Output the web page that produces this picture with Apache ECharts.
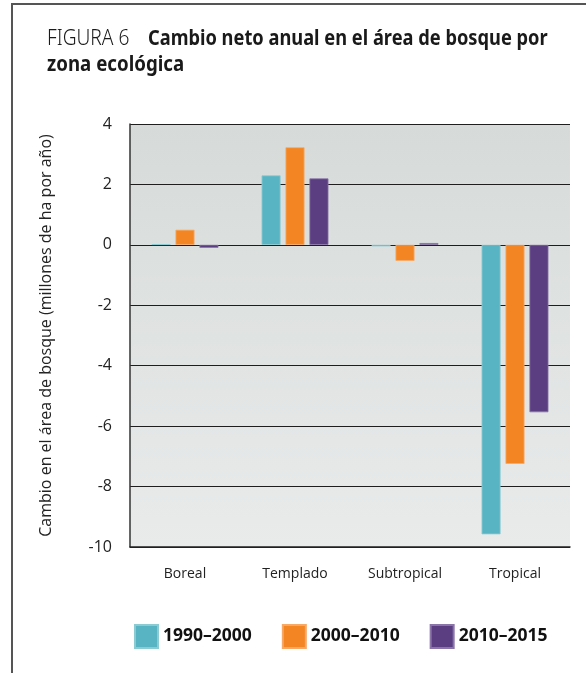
<!DOCTYPE html>
<html>
<head>
<meta charset="utf-8">
<script src="https://cdn.jsdelivr.net/npm/echarts@6/dist/echarts.min.js"></script>
<style>
  html, body { margin: 0; padding: 0; background: #fff; }
  #chart { width: 586px; height: 673px; }
</style>
</head>
<body>
<div id="chart"></div>
<script>
// datos
var zonas = ['Boreal', 'Templado', 'Subtropical', 'Tropical'];
var periodos = ['1990–2000', '2000–2010', '2010–2015'];
var v1990_2000 = [0.02, 2.3, -0.05, -9.58];
var v2000_2010 = [0.5, 3.23, -0.53, -7.25];
var v2010_2015 = [-0.1, 2.2, 0.06, -5.54];
var colores = ['#58b4c2', '#f38622', '#5b3e82'];
var bordes = ['#8ccbd4', '#f7a864', '#8a74a8'];

var chart = echarts.init(document.getElementById('chart'));

var serieDatos = [v1990_2000, v2000_2010, v2010_2015];
var series = [];
for (var i = 0; i < periodos.length; i++) {
    series.push({
        name: periodos[i],
        type: 'bar',
        barWidth: 19,
        barGap: '26%',
        data: serieDatos[i],
        itemStyle: { color: colores[i], borderColor: bordes[i], borderWidth: 0.8 }
    });
}

var fuenteTitulo = 'Noto Sans, sans-serif';

var option = {
    backgroundColor: '#fff',
    animation: false,
    legend: {
        data: periodos,
        bottom: 19,
        left: 129,
        itemWidth: 23,
        itemHeight: 23,
        itemGap: 30,
        icon: 'rect',
        textStyle: { fontFamily: 'Noto Sans, sans-serif', fontSize: 17.5, fontWeight: 'bold', color: '#111' }
    },
    grid: {
        left: 130, top: 124, width: 440, height: 423,
        show: true,
        borderWidth: 0,
        backgroundColor: {
            type: 'linear', x: 0, y: 0, x2: 0, y2: 1,
            colorStops: [{ offset: 0, color: '#d6dbd9' }, { offset: 1, color: '#e9ebeb' }]
        }
    },
    xAxis: {
        type: 'category',
        data: zonas,
        axisLine: { onZero: false, lineStyle: { color: '#222', width: 1.5 } },
        axisTick: { show: false },
        axisLabel: { margin: 20, fontFamily: 'Open Sans, sans-serif', fontSize: 14, color: '#222' }
    },
    yAxis: {
        type: 'value',
        min: -10, max: 4, interval: 2,
        name: 'Cambio en el área de bosque (millones de ha por año)',
        nameLocation: 'middle',
        nameGap: 76,
        nameTextStyle: { fontFamily: 'Open Sans, sans-serif', fontSize: 16, color: '#222' },
        axisLine: { show: true, lineStyle: { color: '#333', width: 1.5 } },
        axisTick: { show: false },
        axisLabel: { margin: 18, fontFamily: 'Open Sans, sans-serif', fontSize: 16, color: '#222' },
        splitLine: { lineStyle: { color: '#1e1e1e', width: 1.2 } }
    },
    graphic: [{
        type: 'polyline',
        silent: true,
        shape: { points: [[12, 673], [12, 4], [586, 4]] },
        style: { stroke: '#555', lineWidth: 2, fill: null }
    }, {
        // título en letra estrecha: se comprime a lo ancho
        type: 'text', x: 47, y: 39, scaleX: 0.87, silent: true,
        style: { text: 'FIGURA 6', font: '300 22px ' + fuenteTitulo, fill: '#1a1a1a', textVerticalAlign: 'middle' }
    }, {
        type: 'text', x: 148, y: 39, scaleX: 0.83, silent: true,
        style: { text: 'Cambio neto anual en el área de bosque por', font: 'bold 22px ' + fuenteTitulo, fill: '#1a1a1a', textVerticalAlign: 'middle' }
    }, {
        type: 'text', x: 47, y: 65, scaleX: 0.85, silent: true,
        style: { text: 'zona ecológica', font: 'bold 22px ' + fuenteTitulo, fill: '#1a1a1a', textVerticalAlign: 'middle' }
    }],
    series: series
};

chart.setOption(option);
</script>
</body>
</html>
